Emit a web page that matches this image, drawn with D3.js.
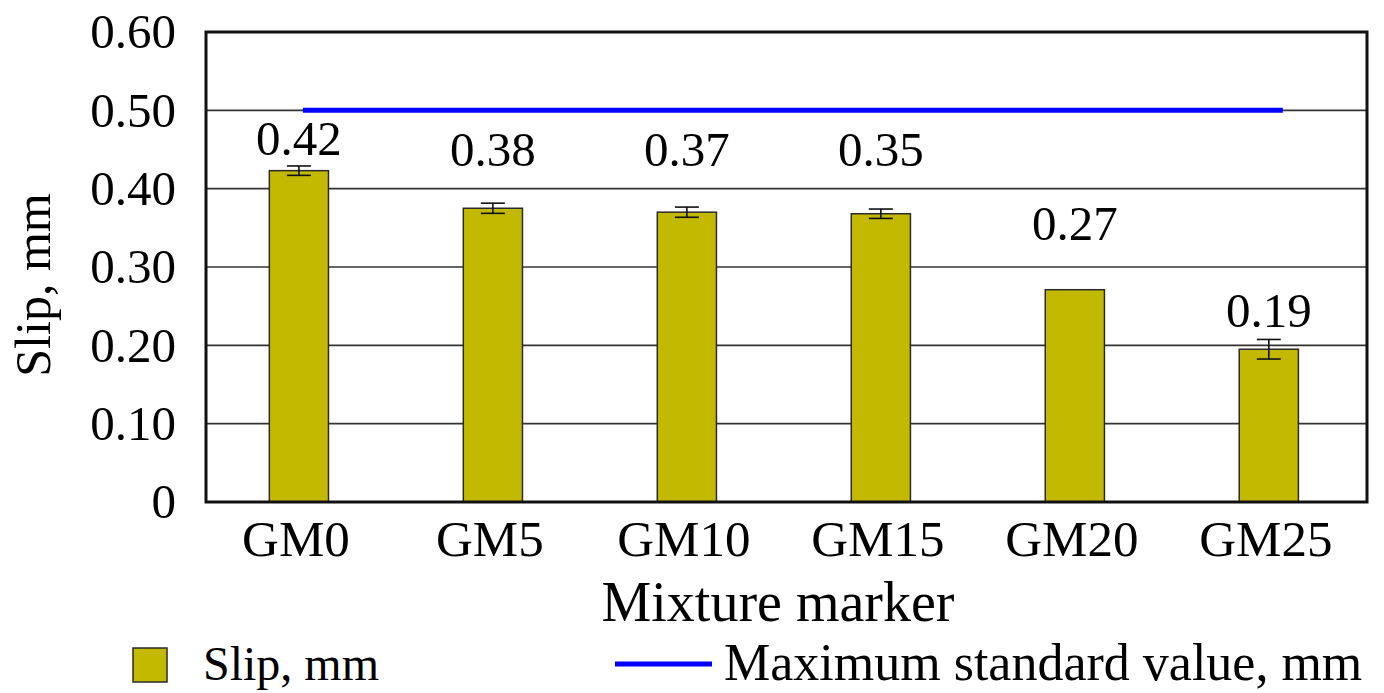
<html>
<head>
  <meta charset="UTF-8">
  <title>Slip by mixture</title>
  <script src="https://d3js.org/d3.v7.min.js"></script>
  <style>
    body { margin: 0; background: white; }
    text { font-family: "Liberation Serif", "Times New Roman", serif; fill: black; }
  </style>
</head>
<body>

    <svg id="chart" width="1384" height="693"></svg>

    <script>

        // data
        const mixtures = ["GM0", "GM5", "GM10", "GM15", "GM20", "GM25"];
        const slip = [0.423, 0.375, 0.370, 0.368, 0.271, 0.195];
        const slipErr = [0.006, 0.0065, 0.0065, 0.006, 0, 0.0125];
        const valueLabels = ["0.42", "0.38", "0.37", "0.35", "0.27", "0.19"];
        const labelLevels = [0.443, 0.429, 0.429, 0.429, 0.334, 0.224];
        const maxStandard = 0.5;
        const yTicks = [0, 0.1, 0.2, 0.3, 0.4, 0.5, 0.6];
        const yTickLabels = ["0", "0.10", "0.20", "0.30", "0.40", "0.50", "0.60"];

        const svg = d3.select("#chart");
        const margin = { top: 32, right: 17, bottom: 191, left: 206 };
        const width = +svg.attr("width");
        const height = +svg.attr("height");
        const plotW = width - margin.left - margin.right;
        const plotH = height - margin.top - margin.bottom;

        const plot = svg.append("g")
                        .attr("transform", "translate(" + margin.left + "," + margin.top + ")");

        const x = d3.scaleBand()
                    .domain(mixtures)
                    .range([0, plotW])
                    .paddingInner(0.695)
                    .paddingOuter(0.34)
                    .align(0.48);

        const y = d3.scaleLinear()
                    .domain([0, 0.6])
                    .range([plotH, 0]);

        // gridlines
        plot.append("g")
            .selectAll("line.grid")
            .data(yTicks.slice(1, -1))
            .join("line")
            .attr("class", "grid")
            .attr("x1", 0).attr("x2", plotW)
            .attr("y1", d => y(d)).attr("y2", d => y(d))
            .attr("stroke", "#333")
            .attr("stroke-width", 1.6);

        // y axis labels
        const yAxis = plot.append("g")
            .call(d3.axisLeft(y).tickValues(yTicks).tickSize(0).tickPadding(30)
                    .tickFormat((d, i) => yTickLabels[i]));
        yAxis.select(".domain").remove();
        yAxis.selectAll("text")
            .attr("font-family", null)
            .style("font-size", "49px");

        // bars
        plot.selectAll("rect.bar")
            .data(slip)
            .join("rect")
            .attr("class", "bar")
            .attr("x", (d, i) => x(mixtures[i]))
            .attr("width", x.bandwidth())
            .attr("y", d => y(d))
            .attr("height", d => y(0) - y(d))
            .attr("fill", "#c2b900")
            .attr("stroke", "#2a2a2a")
            .attr("stroke-width", 1.5);

        // error bars
        const errG = plot.append("g")
                    .attr("stroke", "#111")
                    .attr("stroke-width", 1.6);
        slip.forEach((v, i) => {
            if (slipErr[i] <= 0) return;
            const cx = x(mixtures[i]) + x.bandwidth() / 2;
            const capW = 12;
            errG.append("line")
                .attr("x1", cx).attr("x2", cx)
                .attr("y1", y(v + slipErr[i])).attr("y2", y(v - slipErr[i]));
            errG.append("line")
                .attr("x1", cx - capW).attr("x2", cx + capW)
                .attr("y1", y(v + slipErr[i])).attr("y2", y(v + slipErr[i]));
            errG.append("line")
                .attr("x1", cx - capW).attr("x2", cx + capW)
                .attr("y1", y(v - slipErr[i])).attr("y2", y(v - slipErr[i]));
        });

        // max standard value line
        plot.append("line")
            .attr("x1", x(mixtures[0]) + x.bandwidth() / 2 + 4)
            .attr("x2", x(mixtures[mixtures.length - 1]) + x.bandwidth() / 2 + 14)
            .attr("y1", y(maxStandard)).attr("y2", y(maxStandard))
            .attr("stroke", "#0000ff")
            .attr("stroke-width", 5);

        // value labels
        plot.selectAll("text.vlabel")
            .data(valueLabels)
            .join("text")
            .attr("class", "vlabel")
            .attr("x", (d, i) => x(mixtures[i]) + x.bandwidth() / 2)
            .attr("y", (d, i) => y(labelLevels[i]))
            .attr("text-anchor", "middle")
            .style("font-size", "49px")
            .text(d => d);

        // frame
        plot.append("rect")
            .attr("x", 0).attr("y", 0)
            .attr("width", plotW).attr("height", plotH)
            .attr("fill", "none")
            .attr("stroke", "#111")
            .attr("stroke-width", 3);

        // x axis labels
        plot.selectAll("text.xlabel")
            .data(mixtures)
            .join("text")
            .attr("class", "xlabel")
            .attr("x", d => x(d) + x.bandwidth() / 2 - 3)
            .attr("y", plotH + 54)
            .attr("text-anchor", "middle")
            .style("font-size", "51px")
            .text(d => d);

        // axis titles
        svg.append("text")
            .attr("x", 778)
            .attr("y", 621)
            .attr("text-anchor", "middle")
            .style("font-size", "56px")
            .text("Mixture marker");

        svg.append("text")
            .attr("transform", "translate(50,285) rotate(-90)")
            .attr("text-anchor", "middle")
            .style("font-size", "50px")
            .text("Slip, mm");

        // legend
        const legend = svg.append("g");
        legend.append("rect")
            .attr("x", 133).attr("y", 648)
            .attr("width", 34).attr("height", 34)
            .attr("fill", "#c2b900")
            .attr("stroke", "#2a2a2a")
            .attr("stroke-width", 1.5);
        legend.append("text")
            .attr("x", 203).attr("y", 680)
            .style("font-size", "48px")
            .text("Slip, mm");
        legend.append("line")
            .attr("x1", 615).attr("x2", 712)
            .attr("y1", 664).attr("y2", 664)
            .attr("stroke", "#0000ff")
            .attr("stroke-width", 5);
        legend.append("text")
            .attr("x", 724).attr("y", 680)
            .style("font-size", "52px")
            .text("Maximum standard value, mm");

    </script>

</body>
</html>
